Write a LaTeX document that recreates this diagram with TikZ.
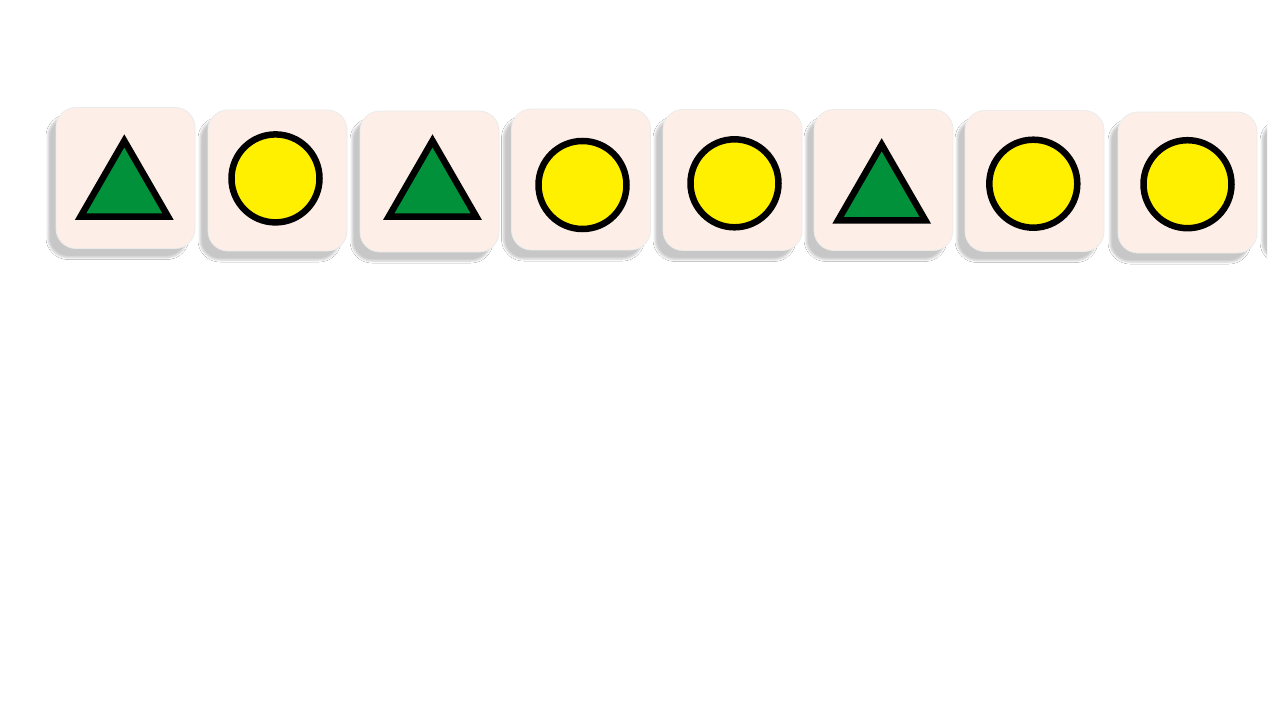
\documentclass[tikz,border=0pt]{standalone}
\usetikzlibrary{shapes.geometric,shadows.blur}
\definecolor{tilefill}{RGB}{253,239,232}
\definecolor{tribg}{RGB}{0,145,58}
\definecolor{circbg}{RGB}{255,240,0}
\tikzset{
  tile/.style={rectangle, rounded corners=20pt, minimum width=139pt, minimum height=141pt,
    inner sep=0pt, fill=tilefill, draw=black!8, line width=0.8pt,
    blur shadow={shadow xshift=-8pt, shadow yshift=-9pt, shadow blur radius=2pt,
      shadow opacity=22, shadow blur steps=6}},
  tri/.style={regular polygon, regular polygon sides=3, minimum size=101pt, inner sep=0pt,
    fill=tribg, draw=black, line width=6.5pt, line join=miter},
  circ/.style={circle, minimum size=88pt, inner sep=0pt, fill=circbg, draw=black, line width=6.5pt}
}
\begin{document}
\begin{tikzpicture}[x=1pt,y=-1pt]
\useasboundingbox (0,0) rectangle (1280,720);
\fill[white] (0,0) rectangle (1280,720);
% tiles
\node[tile] (t1) at (125.5,178) {};
\node[tile] (t2) at (277.5,180.5) {};
\node[tile] (t3) at (429.5,181.5) {};
\node[tile] (t4) at (581,179.5) {};
\node[tile] (t5) at (732.5,180) {};
\node[tile] (t6) at (883.5,180) {};
\node[tile] (t7) at (1034.5,181) {};
\node[tile] (t8) at (1187.5,182.5) {};
\begin{scope}
  \clip (1250,0) rectangle (1267,720);
  \node[tile] (t9) at (1339.5,182.5) {};
\end{scope}
% symbols
\node[tri] (s1) at (124.3,191.3) {};
\node[circ] (s2) at (275.5,178.4) {};
\node[tri] (s3) at (432.5,191.3) {};
\node[circ] (s4) at (582.5,185) {};
\node[circ] (s5) at (734.5,183.3) {};
\node[tri] (s6) at (881.7,195.2) {};
\node[circ] (s7) at (1033.3,183.7) {};
\node[circ] (s8) at (1187.5,184.2) {};
\end{tikzpicture}
\end{document}
